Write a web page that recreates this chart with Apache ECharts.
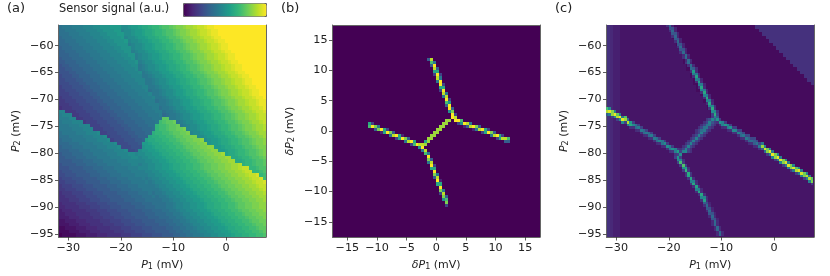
<!DOCTYPE html>
<html>

<head>
    <meta charset="utf-8">
    <title>Sensor signal</title>
    <script src="https://cdn.jsdelivr.net/npm/echarts@6/dist/echarts.min.js"></script>
</head>

<body style="margin:0;background:#fff">
    <div id="main" style="width: 830px;height:276px;filter:blur(.4px)"></div>
    <script>
        const viridis = ['#440154', '#482878', '#3e4989', '#31688e', '#26828e', '#1f9e89', '#35b779', '#6ece58', '#b5de2b', '#fde725'];
        const font = 'DejaVu Sans';

        // axis ranges and ticks
        const pXRange = [-31.85, 7.6];
        const pYRange = [-95.6, -56.15];
        const pXTicks = [-30, -20, -10, 0];
        const pYTicks = [-95, -90, -85, -80, -75, -70, -65, -60];
        const dRange = [-17.5, 17.5];
        const dTicks = [-15, -10, -5, 0, 5, 10, 15];

        // (a) sensor signal, top row first, one character per cell, 0-z = 0-35
        const signalRows = [
            'deeefffggghhiiijjjhhijjkllmnnoppqrsstuuvwwxyyzzzzzzzzzzzzzzz',
            'ddeeefffggghhiiijjghhijjkllmnnoppqrsstuuvwwxyyzzzzzzzzzzzzzz',
            'dddeeefffggghhiiijjhhijjkllmnnoppqrsstuuvwwxyyzzzzzzzzzzzzzz',
            'cdddeeefffggghhiiijghhijjkllmnnoppqrsstuuvwwxyyzzzzzzzzzzzzz',
            'ccdddeeefffggghhiiijghhijjkllmnnoppqrsstuuvwwxyyzzzzzzzzzzzz',
            'cccdddeeefffggghhiiifghhijjkllmnnoppqrsstuuvwwxyyzzzzzzzzzzz',
            'bcccdddeeefffggghhiiighhijjkllmnnoppqrsstuuvwwxyyzzzzzzzzzzz',
            'bbcccdddeeefffggghhiifghhijjkllmnnoppqrsstuuvwwxyyzzzzzzzzzz',
            'bbbcccdddeeefffggghhiifghhijjkllmnnoppqrsstuuvwwxyyzzzzzzzzz',
            'abbbcccdddeeefffggghhifghhijjkllmnnoppqrsstuuvwwxyyzzzzzzzzz',
            'aabbbcccdddeeefffggghhifghhijjkllmnnoppqrsstuuvwwxyyzzzzzzzz',
            '9aabbbcccdddeeefffggghhefghhijjkllmnnoppqrsstuuvwwxyyzzzzzzz',
            '99aabbbcccdddeeefffggghefghhijjkllmnnoppqrsstuuvwwxyyzzzzzzz',
            '999aabbbcccdddeeefffggghefghhijjkllmnnoppqrsstuuvwwxyyzzzzzz',
            '8999aabbbcccdddeeefffgggeefghhijjkllmnnoppqrsstuuvwwxyyzzzzz',
            '88999aabbbcccdddeeefffgggeefghhijjkllmnnoppqrsstuuvwwxyyzzzz',
            '888999aabbbcccdddeeefffggeefghhijjkllmnnoppqrsstuuvwwxyyzzzz',
            '7888999aabbbcccdddeeefffggeefghhijjkllmnnoppqrsstuuvwwxyyzzz',
            '77888999aabbbcccdddeeefffgdeefghhijjkllmnnoppqrsstuuvwwxyyzz',
            '777888999aabbbcccdddeeefffgeefghhijjkllmnnoppqrsstuuvwwxyyzz',
            '6777888999aabbbcccdddeeefffgeefghhijjkllmnnoppqrsstuuvwwxyyz',
            '66777888999aabbbcccdddeeefffdeefghhijjkllmnnoppqrsstuuvwwxyy',
            '666777888999aabbbcccdddeeefffeefghhijjkllmnnoppqrsstuuvwwxyy',
            '5666777888999aabbbcccdddeeeffdeefghhijjkllmnnoppqrsstuuvwwxy',
            'gg666777888999aabbbcccdddeeeffdeefghhijjkllmnnoppqrsstuuvwwx',
            'fggg66777888999aabbbcccdddeeefcdeefghhijjkllmnnoppqrsstuuvww',
            'fffgg66777888999aabbbcccdddeeeqqeefghhijjkllmnnoppqrsstuuvww',
            'efffggg6777888999aabbbcccdddeopqqrefghhijjkllmnnoppqrsstuuvw',
            'eeefffggg777888999aabbbcccddnoopqqrefghhijjkllmnnoppqrsstuuv',
            'eeeefffggg777888999aabbbcccdnoopqqrrsghhijjkllmnnoppqrsstuuv',
            'deeeefffgggh77888999aabbbccmnnoopqqrrsghhijjkllmnnoppqrsstuu',
            'dddeeeefffgggh7888999aabbblmmnnoopqqrrsshhijjkllmnnoppqrsstu',
            'cdddeeeefffgggh7888999aabkllmmnnoopqqrrssthijjkllmnnoppqrsst',
            'cccdddeeeefffgggh888999ajjkllmmnnoopqqrrsstijjkllmnnoppqrsst',
            'bcccdddeeeefffgggh888999ijjkllmmnnoopqqrrssttjjkllmnnoppqrss',
            'bbbcccdddeeeefffgggh889hiijjkllmmnnoopqqrrssttjjkllmnnoppqrs',
            'abbbcccdddeeeefffggghhghhiijjkllmmnnoopqqrrssttukllmnnoppqrs',
            'aabbbcccdddeeeefffggghhghhiijjkllmmnnoopqqrrssttuullmnnoppqr',
            'aaaabbbcccdddeeeefffggggghhiijjkllmmnnoopqqrrssttuullmnnoppq',
            '9aaaabbbcccdddeeeefffggfgghhiijjkllmmnnoopqqrrssttuuvmnnoppq',
            '999aaaabbbcccdddeeeefffggghhiijjkllmmnnoopqqrrssttuuvwwnnopp',
            '8999aaaabbbcccdddeeeeffffgghhiijjkllmmnnoopqqrrssttuuvwwnnop',
            '88999aaaabbbcccdddeeeeffffgghhiijjkllmmnnoopqqrrssttuuvwwxno',
            '7888999aaaabbbcccdddeeeefefgghhiijjkllmmnnoopqqrrssttuuvwwxo',
            '77888999aaaabbbcccdddeeeefefgghhiijjkllmmnnoopqqrrssttuuvwwx',
            '6777888999aaaabbbcccdddeeeeefgghhiijjkllmmnnoopqqrrssttuuvww',
            '66777888999aaaabbbcccdddeeeeefgghhiijjkllmmnnoopqqrrssttuuvw',
            '5666777888999aaaabbbcccdddedeefgghhiijjkllmmnnoopqqrrssttuuv',
            '55666777888999aaaabbbcccdddedeefgghhiijjkllmmnnoopqqrrssttuu',
            '555666777888999aaaabbbcccdddddeefgghhiijjkllmmnnoopqqrrssttu',
            '45555666777888999aaaabbbcccddddeefgghhiijjkllmmnnoopqqrrsstt',
            '445555666777888999aaaabbbcccdddeefgghhiijjkllmmnnoopqqrrsstt',
            '34445555666777888999aaaabbbcccddeefgghhiijjkllmmnnoopqqrrsst',
            '334445555666777888999aaaabbbcccddeefgghhiijjkllmmnnoopqqrrss',
            '3334445555666777888999aaaabbbcccddeefgghhiijjkllmmnnoopqqrrs',
            '223334445555666777888999aaaabbbccddeefgghhiijjkllmmnnoopqqrr',
            '2223334445555666777888999aaaabbbccddeefgghhiijjkllmmnnoopqqr',
            '112223334445555666777888999aaaabbccddeefgghhiijjkllmmnnoopqq',
            '1112223334445555666777888999aaaabbccddeefgghhiijjkllmmnnoopq',
            '011112223334445555666777888999aaabbccddeefgghhiijjkllmmnnoop'
        ];

        // (b) bright cells, [y, first x, values going right] and [x, first y, values going down], 0-10
        const peakRows = [
            [11.75, -1.25, 3, 9], [11.25, -.75, 7, 4], [10.75, -.75, 3, 10], [10.25, -.25, 9, 3], [9.75, -.25, 6, 6],
            [9.25, -.25, 2, 10, 2], [8.75, .25, 9, 4], [8.25, .25, 4, 10], [7.75, .75, 10, 2], [7.25, .75, 6, 6],
            [6.75, .75, 2, 10], [6.25, 1.25, 9, 4], [5.75, 1.25, 4, 9], [5.25, 1.75, 10, 2], [4.75, 1.75, 7, 5],
            [4.25, 1.75, 3, 10], [3.75, 2.25, 10, 3], [3.25, 2.25, 5, 8], [2.75, 2.75, 10, 2], [2.25, 2.75, 10, 9],
            [-3.25, -2.25, 4, 9], [-3.75, -1.75, 7, 4], [-4.25, -1.25, 10], [-4.75, -1.25, 8, 3], [-5.25, -1.25, 4, 9],
            [-5.75, -.75, 10, 2], [-6.25, -.75, 6, 6], [-6.75, -.25, 10], [-7.25, -.25, 8, 4], [-7.75, -.25, 3, 9],
            [-8.25, .25, 10, 1], [-8.75, .25, 6, 6], [-9.25, .75, 10], [-9.75, .75, 8, 4], [-10.25, .75, 2, 9],
            [-10.75, 1.25, 8, 3], [-11.25, 1.25, 5, 7], [-11.75, 1.75, 8], [-12.25, 1.75, 2],
            [-2.25, -1.75, 8.5], [-1.75, -1.75, 6, 8.5], [-1.25, -1.25, 8.5, 8.5], [-.75, -.75, 8.5, 8.5], [-.25, -.25, 8.5, 8.5],
            [.25, .25, 8.5, 8.5], [.75, .75, 8.5, 8.5], [1.25, 1.25, 8.5, 8.5], [1.75, 1.75, 8.5, 8.5]
        ];
        const peakCols = [
            [3.25, 2.25, 7, 10], [3.75, 1.75, 10, 2], [4.25, 1.75, 7, 5], [4.75, 1.25, 10, 1], [5.25, 1.25, 9, 3],
            [5.75, 1.25, 4, 9], [6.25, .75, 10, 1], [6.75, .75, 8, 4], [7.25, .75, 3, 9], [7.75, .25, 10, 2],
            [8.25, .25, 6, 6], [8.75, .25, 2, 10], [9.25, -.25, 8, 4], [9.75, -.25, 3, 9], [10.25, -.75, 10, 2],
            [10.75, -.75, 6, 6], [11.25, -.75, 2, 9], [11.75, -1.25, 9, 3], [12.25, -1.25, 7, 3],
            [-11.25, 1.25, 6, 7], [-10.75, 1.25, 2, 10], [-10.25, .75, 8, 3], [-9.75, .75, 4, 8], [-9.25, .25, 10, 1],
            [-8.75, .25, 6, 6], [-8.25, .25, 2, 10], [-7.75, -.25, 8, 4], [-7.25, -.25, 3, 9], [-6.75, -.75, 10, 2],
            [-6.25, -.75, 6, 6], [-5.75, -.75, 1, 10], [-5.25, -1.25, 8, 4], [-4.75, -1.25, 3, 9], [-4.25, -1.75, 10, 2],
            [-3.75, -1.75, 6, 7], [-3.25, -2.25, 10], [-2.75, -2.25, 9, 5], [-2.25, -2.25, 9, 10]
        ];

        // (c) derivative background, 60x60 cells, top row first, [level, run length, ...] on the 0-z scale
        const gradEdge = [5, 1, 4, 1, 3, 2];
        const gradRuns = [
            [2, 14, 1, 25, 5, 17], [2, 14, 1, 26, 5, 16], [2, 15, 1, 26, 5, 15], [2, 15, 1, 27, 5, 14], [2, 16, 1, 27, 5, 13],
            [2, 16, 1, 28, 5, 12], [2, 17, 1, 28, 5, 11], [2, 17, 1, 29, 5, 10], [2, 18, 1, 29, 5, 9], [2, 18, 1, 30, 5, 8],
            [2, 18, 1, 31, 5, 7], [2, 19, 1, 31, 5, 6], [2, 19, 1, 32, 5, 5], [2, 20, 1, 32, 5, 4], [2, 20, 1, 33, 5, 3],
            [2, 21, 1, 33, 5, 2], [2, 21, 1, 34, 5, 1], [2, 22, 1, 34], [2, 22, 1, 34], [2, 23, 1, 33],
            [2, 24, 1, 32], [2, 24, 1, 32], [2, 25, 1, 31], [2, 25, 1, 31], [2, 26, 1, 30],
            [2, 26, 1, 30], [2, 28, 1, 28], [2, 30, 1, 26], [2, 31, 1, 25], [2, 33, 1, 23],
            [2, 34, 1, 22], [2, 36, 1, 20], [2, 38, 1, 18], [2, 39, 1, 17], [2, 41, 1, 15],
            [2, 42, 1, 14], [2, 44, 1, 12], [2, 46, 1, 10], [2, 47, 1, 9], [2, 49, 1, 7],
            [2, 51, 1, 5], [2, 52, 1, 4], [2, 54, 1, 2], [2, 55, 1, 1], [2, 56],
            [2, 56], [2, 56], [2, 56], [2, 56], [2, 56],
            [2, 56], [2, 56], [2, 56], [2, 56], [2, 56],
            [2, 56], [2, 56], [2, 56], [2, 56], [2, 56]
        ];

        // (c) transition lines, [y, first x, values going right] and [x, first y, values going down], 0-100
        const lineRows = [
            // upper arm
            [-56.25, -20.25, 14, 33, 10], [-56.75, -19.75, 28, 26, 10], [-57.25, -19.75, 14, 33, 10], [-57.75, -19.25, 28, 26, 10],
            [-58.25, -19.25, 14, 33, 10], [-58.75, -18.75, 28, 26, 10], [-59.25, -18.75, 14, 35, 10], [-59.75, -18.25, 28, 26, 10],
            [-60.25, -18.25, 14, 35, 10], [-60.75, -17.75, 28, 26, 10], [-61.25, -17.75, 14, 35, 10], [-61.75, -17.25, 12, 35, 12],
            [-62.25, -17.25, 14, 35, 10], [-62.75, -16.75, 12, 35, 12], [-63.25, -16.75, 16, 36, 10], [-63.75, -16.25, 14, 36, 12],
            [-64.25, -15.75, 34, 30, 12], [-64.75, -15.75, 14, 56, 12], [-65.25, -15.25, 42, 40, 10], [-65.75, -15.25, 14, 58, 12],
            [-66.25, -14.75, 42, 40, 10], [-66.75, -14.75, 14, 58, 12], [-67.25, -14.25, 44, 42, 10], [-67.75, -14.25, 14, 60, 12],
            [-68.25, -13.75, 44, 42, 10], [-68.75, -13.75, 14, 60, 12], [-69.25, -13.25, 44, 42, 10], [-69.75, -13.25, 14, 60, 12],
            [-70.25, -12.75, 44, 44, 10], [-70.75, -12.75, 14, 60, 12], [-71.25, -12.25, 46, 46, 12], [-71.75, -12.25, 16, 62, 14],
            [-72.25, -11.75, 50, 48, 14], [-72.75, -11.75, 20, 62, 20], [-73.25, -11.75, 18, 44, 30],
            // lower arm
            [-80.75, -18.75, 20, 52, 16], [-81.25, -18.25, 48, 46, 14], [-81.75, -18.25, 20, 70, 18], [-82.25, -17.75, 18, 72, 20],
            [-82.75, -17.25, 50, 56, 14], [-83.25, -17.25, 18, 66, 18], [-83.75, -16.75, 16, 62, 16], [-84.25, -16.75, 16, 60, 16],
            [-84.75, -16.25, 16, 60, 14], [-85.25, -15.75, 44, 44, 12], [-85.75, -15.75, 16, 60, 14], [-86.25, -15.25, 14, 58, 14],
            [-86.75, -14.75, 44, 44, 12], [-87.25, -14.75, 14, 60, 14], [-87.75, -14.25, 14, 60, 14], [-88.25, -13.75, 46, 46, 12],
            [-88.75, -13.75, 14, 58, 14], [-89.25, -13.25, 30, 24, 10], [-89.75, -13.25, 14, 34, 12], [-90.25, -12.75, 28, 26, 10],
            [-90.75, -12.75, 12, 34, 12], [-91.25, -12.25, 28, 26, 10], [-91.75, -12.25, 12, 34, 12], [-92.25, -11.75, 28, 26, 10],
            [-92.75, -11.75, 12, 34, 12], [-93.25, -11.75, 12, 34, 12], [-93.75, -11.25, 12, 34, 12], [-94.25, -11.25, 12, 34, 12],
            [-94.75, -10.75, 12, 34, 12], [-95.25, -10.75, 12, 34, 12],
            // middle segment
            [-79.75, -18.25, 14, 20, 44, 46, 20, 14], [-79.25, -17.75, 14, 22, 44, 22, 14], [-78.75, -17.25, 14, 22, 44, 22, 14],
            [-78.25, -16.75, 14, 22, 44, 22, 14], [-77.75, -16.25, 14, 22, 44, 22, 14], [-77.25, -15.75, 14, 22, 44, 22, 14],
            [-76.75, -15.25, 14, 22, 44, 22, 14], [-76.25, -14.75, 14, 22, 44, 22, 14], [-75.75, -14.75, 14, 22, 36, 40, 20, 14],
            [-75.25, -14.25, 14, 22, 38, 40, 20, 14], [-74.75, -13.75, 14, 22, 38, 40, 20, 14], [-74.25, -13.25, 14, 22, 44, 26, 18],
            [-73.75, -12.75, 16, 24, 46, 30, 30]
        ];
        const lineCols = [
            // right arm
            [-10.75, -73.25, 16, 52, 14], [-10.25, -73.75, 18, 52, 14], [-9.75, -74.25, 44, 44, 12], [-9.25, -74.25, 18, 54, 14],
            [-8.75, -74.75, 44, 44, 12], [-8.25, -74.75, 18, 52, 14], [-7.75, -75.25, 18, 48, 14], [-7.25, -75.25, 18, 46, 14],
            [-6.75, -75.75, 20, 44, 14], [-6.25, -75.75, 20, 34, 34, 12], [-5.75, -76.25, 22, 40, 14], [-5.25, -76.75, 22, 40, 14],
            [-4.75, -76.75, 22, 32, 32, 12], [-4.25, -77.25, 22, 36, 14], [-3.75, -77.25, 22, 30, 30, 12], [-3.25, -77.75, 22, 38, 14],
            [-2.75, -78.25, 22, 42, 14], [-2.25, -78.25, 40, 85, 30], [-1.75, -78.75, 45, 94, 35], [-1.25, -79.25, 78, 82, 18],
            [-.75, -79.25, 45, 97, 42], [-.25, -79.75, 42, 98, 45], [.25, -80.25, 80, 84, 18], [.75, -80.25, 45, 98, 42],
            [1.25, -80.75, 42, 97, 45], [1.75, -81.25, 80, 82, 18], [2.25, -81.25, 45, 95, 40], [2.75, -81.75, 42, 96, 42],
            [3.25, -82.25, 80, 82, 18], [3.75, -82.25, 45, 96, 40], [4.25, -82.75, 72, 88, 20], [4.75, -82.75, 45, 96, 40],
            [5.25, -83.25, 42, 94, 45], [5.75, -83.75, 78, 80, 18], [6.25, -83.75, 45, 90, 42], [6.75, -84.25, 40, 88, 45],
            [7.25, -84.75, 74, 80, 18],
            // left arm
            [-31.75, -71.75, 70, 88, 30], [-31.25, -71.75, 50, 96, 42], [-30.75, -72.25, 82, 84, 20], [-30.25, -72.25, 42, 98, 50],
            [-29.75, -72.75, 76, 90, 20], [-29.25, -72.75, 40, 98, 50], [-28.75, -73.25, 42, 96, 48], [-28.25, -73.25, 72, 86, 20],
            [-27.75, -73.75, 36, 90, 40], [-27.25, -74.25, 55, 60, 14], [-26.75, -74.25, 20, 48, 14], [-26.25, -74.75, 36, 34, 12],
            [-25.75, -74.75, 20, 42, 14], [-25.25, -75.25, 20, 40, 14], [-24.75, -75.75, 34, 34, 12], [-24.25, -75.75, 20, 40, 14],
            [-23.75, -76.25, 34, 34, 12], [-23.25, -76.25, 20, 42, 14], [-22.75, -76.75, 20, 42, 14], [-22.25, -77.25, 36, 36, 12],
            [-21.75, -77.25, 20, 46, 14], [-21.25, -77.75, 40, 38, 12], [-20.75, -77.75, 18, 48, 14], [-20.25, -78.25, 18, 50, 14],
            [-19.75, -78.75, 42, 42, 14], [-19.25, -78.75, 18, 52, 16], [-18.75, -79.25, 44, 44, 16], [-18.25, -79.25, 18, 56, 20],
            [-17.75, -79.75, 20, 50, 20]
        ];

        // string rows -> [x, y, value, cell width, cell height]
        function gridCells(rows, xr, yr) {
            let w = (xr[1] - xr[0]) / 60;
            let h = (yr[1] - yr[0]) / rows.length;
            let out = [];
            rows.forEach(function (row, r) {
                for (let c = 0; c < row.length; c++) {
                    out.push([xr[0] + (c + .5) * w, yr[1] - (r + .5) * h, parseInt(row[c], 36) / 35, w, h]);
                }
            });
            return out;
        }

        // [level, run length, ...] rows -> same cells as gridCells
        function runRowCells(edge, rows, xr, yr) {
            return gridCells(rows.map(function (row) {
                let runs = edge.concat(row);
                let text = '';
                for (let i = 0; i < runs.length; i += 2) {
                    text += String(runs[i]).repeat(runs[i + 1]);
                }
                return text;
            }), xr, yr);
        }

        // runs -> cells on the 0.5 mV scan grid, brightest drawn last
        function runCells(rows, cols, scale) {
            let out = [];
            rows.forEach(function (run) {
                for (let i = 2; i < run.length; i++) {
                    out.push([run[1] + (i - 2) * .5, run[0], run[i] / scale, .5, .5]);
                }
            });
            cols.forEach(function (run) {
                for (let i = 2; i < run.length; i++) {
                    out.push([run[0], run[1] - (i - 2) * .5, run[i] / scale, .5, .5]);
                }
            });
            return out.sort(function (a, b) { return a[2] - b[2]; });
        }

        function renderCell(params, api) {
            let w = api.value(3);
            let h = api.value(4);
            let p = api.coord([api.value(0) - w / 2, api.value(1) + h / 2]);
            let q = api.coord([api.value(0) + w / 2, api.value(1) - h / 2]);
            let x0 = Math.round(p[0]);
            let y0 = Math.round(p[1]);
            return {
                type: 'rect',
                shape: { x: x0, y: y0, width: Math.round(q[0]) - x0, height: Math.round(q[1]) - y0 },
                style: { fill: api.visual('color') }
            };
        }

        function cellSeries(index, cells) {
            return {
                type: 'custom',
                xAxisIndex: index * 2,
                yAxisIndex: index * 2,
                renderItem: renderCell,
                encode: { x: 0, y: 1 },
                clip: true,
                silent: true,
                animation: false,
                progressive: 0,
                data: cells
            };
        }

        function tickText(v) {
            return String(v).replace('-', '\u2212');
        }

        const nameStyle = {
            fontFamily: font, fontSize: 11, color: '#222',
            rich: {
                i: { fontFamily: font, fontSize: 11, fontStyle: 'italic', color: '#222' },
                s: { fontFamily: font, fontSize: 8, color: '#222', verticalAlign: 'bottom' }
            }
        };

        function makeAxis(gridIndex, pos, range, ticks, name) {
            let main = pos === 'bottom' || pos === 'left';
            return {
                type: 'value',
                gridIndex: gridIndex,
                position: pos,
                min: range[0],
                max: range[1],
                name: main ? name : '',
                nameLocation: 'middle',
                nameGap: pos === 'bottom' ? 23 : 37,
                nameTextStyle: nameStyle,
                splitLine: { show: false },
                axisLine: { show: true, onZero: false, lineStyle: { color: '#666', width: 1 } },
                axisTick: main ? { show: true, customValues: ticks, length: 3.5, lineStyle: { color: '#333', width: .8 } } : { show: false },
                axisLabel: main ? {
                    show: true, customValues: ticks, margin: pos === 'bottom' ? 6 : 5, fontFamily: font, fontSize: 11.2, color: '#222',
                    formatter: tickText
                } : { show: false }
            };
        }

        const grids = [
            { left: 58.5, top: 25, width: 207.5, height: 215 },
            { left: 332.5, top: 25, width: 207.5, height: 215, show: true, backgroundColor: viridis[0], borderWidth: 0 },
            { left: 606.5, top: 25, width: 207.5, height: 215 }
        ];

        let xAxes = [];
        let yAxes = [];
        [
            [pXRange, pXTicks, '{i|P}{s|1} (mV)', pYRange, pYTicks, '{i|P}{s|2} (mV)'],
            [dRange, dTicks, '{i|\u03b4P}{s|1} (mV)', dRange, dTicks, '{i|\u03b4P}{s|2} (mV)'],
            [pXRange, pXTicks, '{i|P}{s|1} (mV)', pYRange, pYTicks, '{i|P}{s|2} (mV)']
        ].forEach(function (a, i) {
            xAxes.push(makeAxis(i, 'bottom', a[0], a[1], a[2]), makeAxis(i, 'top', a[0], a[1], a[2]));
            yAxes.push(makeAxis(i, 'left', a[3], a[4], a[5]), makeAxis(i, 'right', a[3], a[4], a[5]));
        });

        function panelTitle(text, left, size, top) {
            return { text: text, left: left, top: top, padding: 0, textStyle: { fontFamily: font, fontSize: size, fontWeight: 'normal', color: '#222' } };
        }

        let myChart = echarts.init(document.getElementById('main'), null, { renderer: 'canvas' });

        let option = {
            animation: false,
            backgroundColor: '#fff',
            title: [
                panelTitle('(a)', 7, 13, 2),
                panelTitle('Sensor signal (a.u.)', 59, 11.4, 4),
                panelTitle('(b)', 281, 13, 2),
                panelTitle('(c)', 555, 13, 2)
            ],
            grid: grids,
            xAxis: xAxes,
            yAxis: yAxes,
            visualMap: {
                type: 'continuous',
                min: 0,
                max: 1,
                dimension: 2,
                seriesIndex: [0, 1, 2, 3],
                orient: 'horizontal',
                left: 183,
                top: 3,
                padding: 0,
                itemWidth: 13,
                itemHeight: 83,
                calculable: false,
                realtime: false,
                hoverLink: false,
                showLabel: false,
                text: null,
                borderColor: '#666',
                borderWidth: 1,
                inRange: { color: viridis }
            },
            series: [
                cellSeries(0, gridCells(signalRows, pXRange, pYRange)),
                cellSeries(1, runCells(peakRows, peakCols, 10)),
                cellSeries(2, runRowCells(gradEdge, gradRuns, pXRange, pYRange)),
                cellSeries(2, runCells(lineRows, lineCols, 100))
            ]
        };
        myChart.setOption(option);
    </script>
</body>

</html>
